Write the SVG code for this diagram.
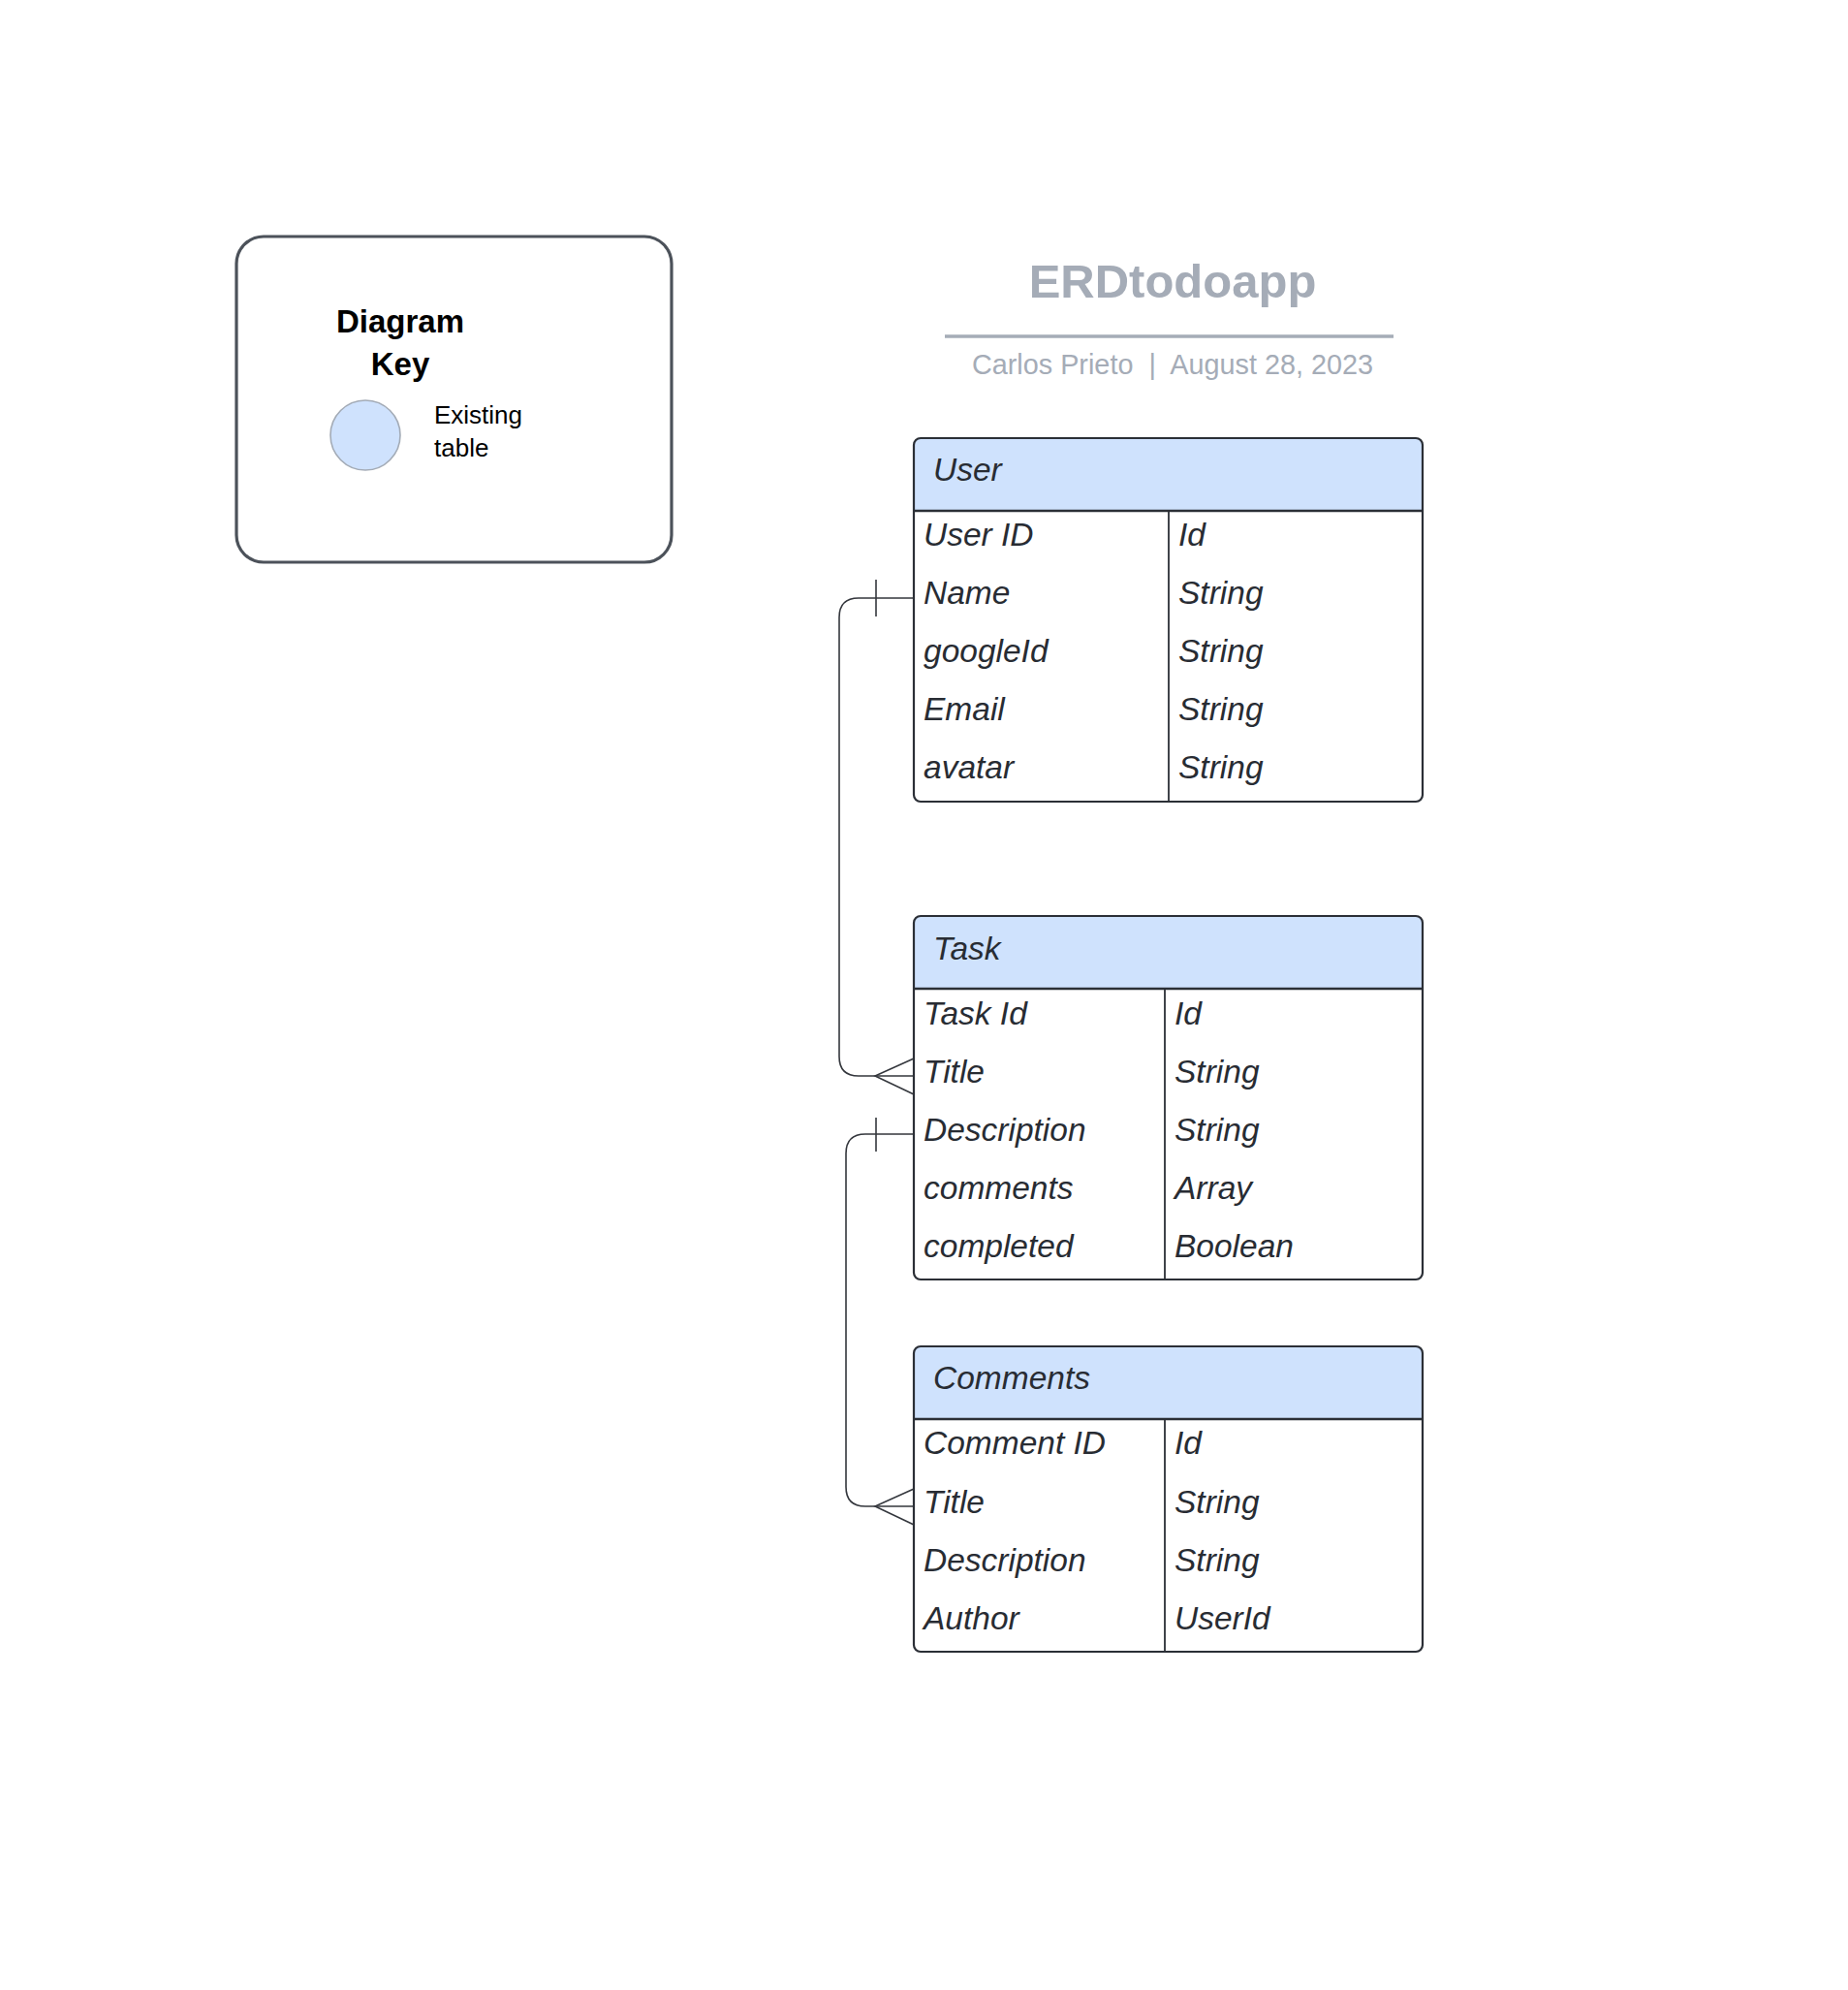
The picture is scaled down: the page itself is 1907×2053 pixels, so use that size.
<svg xmlns="http://www.w3.org/2000/svg" width="1907" height="2053" viewBox="0 0 1907 2053">
<style>
text{font-family:"Liberation Sans",Arial,sans-serif}
.row{font-size:33.5px;font-style:italic;fill:#282c33}
.hdr{font-size:33.5px;font-style:italic;fill:#282c33}
.hfill{fill:#cfe2fd}
.outline{fill:none;stroke:#2b2f36;stroke-width:2.2}
.sep{stroke:#2b2f36;stroke-width:2.4}
.div{stroke:#2b2f36;stroke-width:1.8}
.conn{fill:none;stroke:#34373d;stroke-width:1.6}
.title{font-size:49px;font-weight:bold;fill:#a5acb7}
.sub{font-size:28.8px;fill:#a5acb7;white-space:pre}
</style>
<rect width="1907" height="2053" fill="#ffffff"/>

<g id="key">
<rect x="244" y="244" width="449" height="336" rx="28" fill="#ffffff" stroke="#4c525a" stroke-width="3.2"/>
<text x="413" y="343" text-anchor="middle" font-size="33" font-weight="bold" fill="#000">Diagram</text>
<text x="413" y="387" text-anchor="middle" font-size="33" font-weight="bold" fill="#000">Key</text>
<circle cx="377" cy="449" r="36" fill="#cfe2fd" stroke="#a3abb6" stroke-width="1.6"/>
<text x="448" y="437" font-size="26" fill="#000">Existing</text>
<text x="448" y="471" font-size="26" fill="#000">table</text>
</g>

<g id="title">
<text x="1210" y="307" text-anchor="middle" class="title">ERDtodoapp</text>
<line x1="975" y1="347" x2="1438" y2="347" stroke="#a5acb7" stroke-width="3.5"/>
<text x="1210" y="386" text-anchor="middle" class="sub" xml:space="preserve">Carlos Prieto  |  August 28, 2023</text>
</g>

<g id="connectors">
<path class="conn" d="M943,617 H886 Q866,617 866,637 V1090 Q866,1110 886,1110 H943"/>
<path class="conn" d="M904,598 V636"/>
<path class="conn" d="M943,1092 L903,1110 L943,1129"/>
<path class="conn" d="M943,1170 H893 Q873,1170 873,1190 V1534 Q873,1554 893,1554 H943"/>
<path class="conn" d="M904,1153 V1188"/>
<path class="conn" d="M943,1536 L903,1554 L943,1573"/>
</g>

<g id="user">
<rect x="943" y="452" width="525" height="375" rx="7" fill="#ffffff"/>
<path class="hfill" d="M943,527 V459 Q943,452 950,452 H1461 Q1468,452 1468,459 V527 Z"/>
<line class="sep" x1="943" y1="527" x2="1468" y2="527"/>
<line class="div" x1="1206" y1="527" x2="1206" y2="827"/>
<rect class="outline" x="943" y="452" width="525" height="375" rx="7"/>
<text class="hdr" x="963" y="496">User</text>
<text class="row" x="953" y="563">User ID</text>
<text class="row" x="953" y="623">Name</text>
<text class="row" x="953" y="683">googleId</text>
<text class="row" x="953" y="743">Email</text>
<text class="row" x="953" y="803">avatar</text>
<text class="row" x="1216" y="563">Id</text>
<text class="row" x="1216" y="623">String</text>
<text class="row" x="1216" y="683">String</text>
<text class="row" x="1216" y="743">String</text>
<text class="row" x="1216" y="803">String</text>
</g>

<g id="task">
<rect x="943" y="945" width="525" height="375" rx="7" fill="#ffffff"/>
<path class="hfill" d="M943,1020 V952 Q943,945 950,945 H1461 Q1468,945 1468,952 V1020 Z"/>
<line class="sep" x1="943" y1="1020" x2="1468" y2="1020"/>
<line class="div" x1="1202" y1="1020" x2="1202" y2="1320"/>
<rect class="outline" x="943" y="945" width="525" height="375" rx="7"/>
<text class="hdr" x="963" y="990">Task</text>
<text class="row" x="953" y="1057">Task Id</text>
<text class="row" x="953" y="1117">Title</text>
<text class="row" x="953" y="1177">Description</text>
<text class="row" x="953" y="1237">comments</text>
<text class="row" x="953" y="1297">completed</text>
<text class="row" x="1212" y="1057">Id</text>
<text class="row" x="1212" y="1117">String</text>
<text class="row" x="1212" y="1177">String</text>
<text class="row" x="1212" y="1237">Array</text>
<text class="row" x="1212" y="1297">Boolean</text>
</g>

<g id="comments">
<rect x="943" y="1389" width="525" height="315" rx="7" fill="#ffffff"/>
<path class="hfill" d="M943,1464 V1396 Q943,1389 950,1389 H1461 Q1468,1389 1468,1396 V1464 Z"/>
<line class="sep" x1="943" y1="1464" x2="1468" y2="1464"/>
<line class="div" x1="1202" y1="1464" x2="1202" y2="1704"/>
<rect class="outline" x="943" y="1389" width="525" height="315" rx="7"/>
<text class="hdr" x="963" y="1433">Comments</text>
<text class="row" x="953" y="1500">Comment ID</text>
<text class="row" x="953" y="1561">Title</text>
<text class="row" x="953" y="1621">Description</text>
<text class="row" x="953" y="1681">Author</text>
<text class="row" x="1212" y="1500">Id</text>
<text class="row" x="1212" y="1561">String</text>
<text class="row" x="1212" y="1621">String</text>
<text class="row" x="1212" y="1681">UserId</text>
</g>
</svg>
